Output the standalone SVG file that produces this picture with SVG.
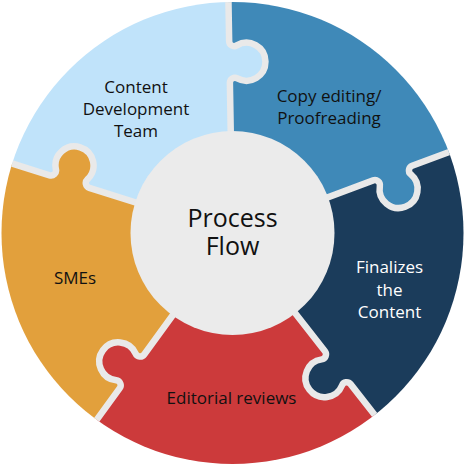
<svg xmlns="http://www.w3.org/2000/svg" width="468" height="468" viewBox="0 0 468 468">
<style>
.lbl{font-family:"Open Sans","Noto Sans","Liberation Sans",sans-serif;font-size:17px;fill:#111;text-anchor:middle}
.wht{fill:#fff}
.ttl{font-family:"Open Sans","Noto Sans","Liberation Sans",sans-serif;font-size:25px;fill:#111;text-anchor:middle}
.sep{fill:none;stroke:#e9e9e9;stroke-width:6.5;stroke-linejoin:round}
</style>
<defs>
<clipPath id="disc"><circle cx="232.5" cy="233" r="231"/></clipPath>
</defs>
<rect width="468" height="468" fill="#fff"/>
<g clip-path="url(#disc)">
<g id="node-content-development">
<path fill="#c0e3fa" d="M232.5 233 L89.25 187.83 A5 5 0 0 1 87.41 179.39 A19 19 0 1 0 55.93 169.47 A5 5 0 0 1 49.58 175.33 L-1.16 159.33 A245 245 0 0 1 228.22 -11.96 L229.15 41.23 A5 5 0 0 0 236.73 45.40 A19 19 0 1 1 237.30 78.39 A5 5 0 0 0 229.88 82.82 Z"/>
</g>
<g id="node-copy-editing">
<path fill="#3f89b8" d="M232.5 233 L229.88 82.82 A5 5 0 0 1 237.30 78.39 A19 19 0 1 0 236.73 45.40 A5 5 0 0 1 229.15 41.23 L228.22 -11.96 A245 245 0 0 1 461.99 147.20 L412.15 165.83 A5 5 0 0 0 410.75 174.36 A19 19 0 1 1 379.84 185.92 A5 5 0 0 0 373.19 180.40 Z"/>
</g>
<g id="node-finalizes">
<path fill="#1b3c5b" d="M232.5 233 L373.19 180.40 A5 5 0 0 1 379.84 185.92 A19 19 0 1 0 410.75 174.36 A5 5 0 0 1 412.15 165.83 L461.99 147.20 A245 245 0 0 1 383.34 426.06 L350.58 384.14 A5 5 0 0 0 342.03 385.37 A19 19 0 1 1 321.71 359.37 A5 5 0 0 0 324.97 351.36 Z"/>
</g>
<g id="node-editorial">
<path fill="#cc3a3b" d="M232.5 233 L324.97 351.36 A5 5 0 0 1 321.71 359.37 A19 19 0 1 0 342.03 385.37 A5 5 0 0 1 350.58 384.14 L383.34 426.06 A245 245 0 0 1 88.49 431.21 L119.76 388.17 A5 5 0 0 0 116.22 380.28 A19 19 0 1 1 135.62 353.59 A5 5 0 0 0 144.21 354.51 Z"/>
</g>
<g id="node-smes">
<path fill="#e2a03c" d="M232.5 233 L144.21 354.51 A5 5 0 0 1 135.62 353.59 A19 19 0 1 0 116.22 380.28 A5 5 0 0 1 119.76 388.17 L88.49 431.21 A245 245 0 0 1 -1.16 159.33 L49.58 175.33 A5 5 0 0 0 55.93 169.47 A19 19 0 1 1 87.41 179.39 A5 5 0 0 0 89.25 187.83 Z"/>
</g>
<g id="separators">
<path class="sep" d="M232.5 233 L229.88 82.82 A5 5 0 0 1 237.30 78.39 A19 19 0 1 0 236.73 45.40 A5 5 0 0 1 229.15 41.23 L228.22 -11.96"/>
<path class="sep" d="M232.5 233 L373.19 180.40 A5 5 0 0 1 379.84 185.92 A19 19 0 1 0 410.75 174.36 A5 5 0 0 1 412.15 165.83 L461.99 147.20"/>
<path class="sep" d="M232.5 233 L324.97 351.36 A5 5 0 0 1 321.71 359.37 A19 19 0 1 0 342.03 385.37 A5 5 0 0 1 350.58 384.14 L383.34 426.06"/>
<path class="sep" d="M232.5 233 L144.21 354.51 A5 5 0 0 1 135.62 353.59 A19 19 0 1 0 116.22 380.28 A5 5 0 0 1 119.76 388.17 L88.49 431.21"/>
<path class="sep" d="M232.5 233 L89.25 187.83 A5 5 0 0 1 87.41 179.39 A19 19 0 1 0 55.93 169.47 A5 5 0 0 1 49.58 175.33 L-1.16 159.33"/>
</g>
</g>
<g id="labels">
<text class="lbl" x="136" y="93">Content</text>
<text class="lbl" x="136" y="115">Development</text>
<text class="lbl" x="136" y="137">Team</text>
<text class="lbl" x="329" y="102">Copy editing/</text>
<text class="lbl" x="329" y="124">Proofreading</text>
<text class="lbl wht" x="389.5" y="273">Finalizes</text>
<text class="lbl wht" x="389.5" y="296">the</text>
<text class="lbl wht" x="389.5" y="318">Content</text>
<text class="lbl" x="231.5" y="404">Editorial reviews</text>
<text class="lbl" x="75" y="284">SMEs</text>
</g>
<g id="node-process-flow">
<circle cx="232.5" cy="233" r="102" fill="#ebebeb"/>
<text class="ttl" x="232.5" y="227">Process</text>
<text class="ttl" x="232.5" y="255">Flow</text>
</g>
</svg>
